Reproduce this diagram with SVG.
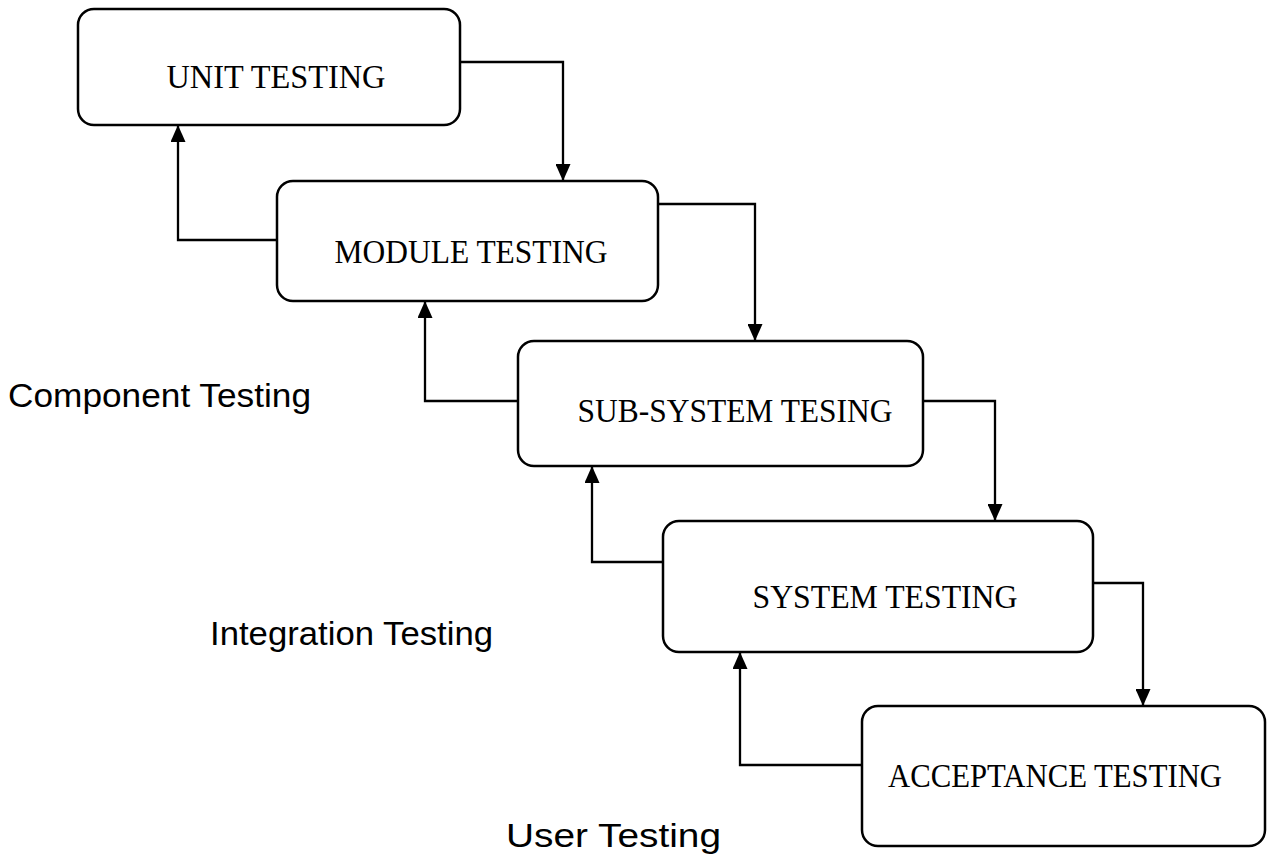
<svg xmlns="http://www.w3.org/2000/svg" width="1274" height="854" viewBox="0 0 1274 854">
<style>
.box{fill:#fff;stroke:#000;stroke-width:2.5}
.lbl{font-family:"Liberation Serif","Times New Roman",serif;font-size:34px;fill:#000;text-anchor:middle}
.side{font-family:"Liberation Sans",Arial,sans-serif;font-size:34px;fill:#000}
.con{fill:none;stroke:#000;stroke-width:2.3}
</style>
<defs>
<marker id="arr" viewBox="0 0 17 15" refX="17" refY="7.5" markerWidth="17" markerHeight="15" markerUnits="userSpaceOnUse" orient="auto">
<path d="M0,0 L17,7.5 L0,15 Z" fill="#000"/>
</marker>
</defs>
<rect width="1274" height="854" fill="#fff"/>
<g id="connectors">
<path class="con" d="M460,62 H563 V181" marker-end="url(#arr)"/>
<path class="con" d="M277,240 H178 V125" marker-end="url(#arr)"/>
<path class="con" d="M658,204 H755 V341" marker-end="url(#arr)"/>
<path class="con" d="M518,401 H425 V301" marker-end="url(#arr)"/>
<path class="con" d="M923,401 H995 V521" marker-end="url(#arr)"/>
<path class="con" d="M663,562 H592 V466" marker-end="url(#arr)"/>
<path class="con" d="M1093,583 H1143 V706" marker-end="url(#arr)"/>
<path class="con" d="M862,765 H740 V652" marker-end="url(#arr)"/>
</g>
<g id="unit">
<rect class="box" x="78" y="9" width="382" height="116" rx="16"/>
<text class="lbl" x="276" y="88" textLength="219" lengthAdjust="spacingAndGlyphs">UNIT TESTING</text>
</g>
<g id="module">
<rect class="box" x="277" y="181" width="381" height="120" rx="16"/>
<text class="lbl" x="471" y="263" textLength="273" lengthAdjust="spacingAndGlyphs">MODULE TESTING</text>
</g>
<g id="subsystem">
<rect class="box" x="518" y="341" width="405" height="125" rx="16"/>
<text class="lbl" x="735" y="422" textLength="315" lengthAdjust="spacingAndGlyphs">SUB-SYSTEM TESING</text>
</g>
<g id="system">
<rect class="box" x="663" y="521" width="430" height="131" rx="16"/>
<text class="lbl" x="885" y="608" textLength="265" lengthAdjust="spacingAndGlyphs">SYSTEM TESTING</text>
</g>
<g id="acceptance">
<rect class="box" x="862" y="706" width="403" height="140" rx="16"/>
<text class="lbl" x="1055" y="787" textLength="334" lengthAdjust="spacingAndGlyphs">ACCEPTANCE TESTING</text>
</g>
<g id="labels">
<text class="side" x="8" y="407" textLength="303" lengthAdjust="spacingAndGlyphs">Component Testing</text>
<text class="side" x="210" y="645" textLength="283" lengthAdjust="spacingAndGlyphs">Integration Testing</text>
<text class="side" x="506" y="847" textLength="215" lengthAdjust="spacingAndGlyphs">User Testing</text>
</g>
</svg>
